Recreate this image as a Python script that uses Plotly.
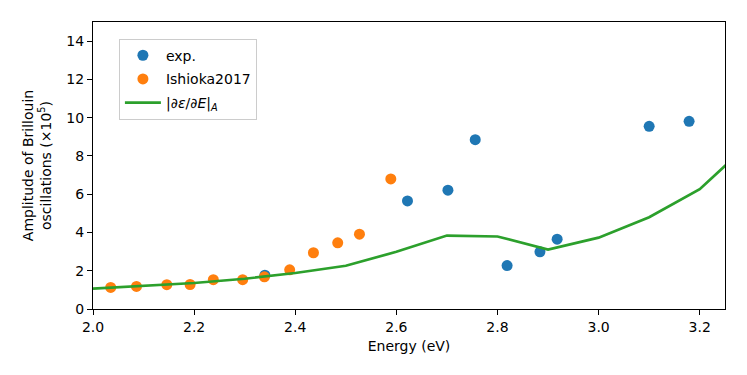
import plotly.graph_objects as go

# Data
exp_energy = [2.340, 2.622, 2.702, 2.756, 2.819, 2.884, 2.918, 3.100, 3.179]
exp_amp = [1.77, 5.65, 6.21, 8.85, 2.27, 2.99, 3.65, 9.55, 9.81]

ish_energy = [2.035, 2.086, 2.146, 2.192, 2.238, 2.296, 2.339, 2.389, 2.436, 2.484, 2.527, 2.589]
ish_amp = [1.13, 1.18, 1.27, 1.28, 1.53, 1.53, 1.68, 2.05, 2.94, 3.46, 3.91, 6.80]

deriv_energy = [2.0, 2.1, 2.2, 2.3, 2.4, 2.5, 2.6, 2.7, 2.8, 2.9, 3.0, 3.1, 3.2, 3.3]
deriv_amp = [1.06, 1.20, 1.36, 1.58, 1.88, 2.26, 2.99, 3.84, 3.79, 3.11, 3.73, 4.80, 6.26, 8.70]

x_ticks = [2.0, 2.2, 2.4, 2.6, 2.8, 3.0, 3.2]
y_ticks = [0, 2, 4, 6, 8, 10, 12, 14]

FONT = "DejaVu Sans"
FS = 14

fig = go.Figure()
fig.add_trace(go.Scatter(
    x=exp_energy, y=exp_amp, mode="markers", name="exp.",
    marker=dict(color="#1f77b4", size=11), legendgroup="a",
))
fig.add_trace(go.Scatter(
    x=ish_energy, y=ish_amp, mode="markers", name="Ishioka2017",
    marker=dict(color="#ff7f0e", size=11), legendgroup="b",
))
fig.add_trace(go.Scatter(
    x=deriv_energy, y=deriv_amp, mode="lines",
    name="|∂<i>ε</i>/∂<i>E</i>|<sub><i>A</i></sub>",
    line=dict(color="#2ca02c", width=2.7), legendgroup="c",
))

axis_common = dict(
    showline=True, linecolor="black", linewidth=1, mirror=True,
    ticks="outside", ticklen=5, tickwidth=1, tickcolor="black",
    showgrid=False, zeroline=False,
    tickfont=dict(family=FONT, size=FS, color="black"),
)

fig.update_layout(
    width=747, height=375,
    margin=dict(l=92.5, r=21.7, t=21.7, b=65.7),
    plot_bgcolor="white", paper_bgcolor="white",
    font=dict(family=FONT, size=FS, color="black"),
    xaxis=dict(
        range=[2.0, 3.25], tickvals=x_ticks,
        ticktext=[f"{v:.1f}" for v in x_ticks],
        title=dict(text="Energy (eV)", font=dict(family=FONT, size=FS), standoff=7),
        **axis_common,
    ),
    yaxis=dict(
        range=[0, 15], tickvals=y_ticks,
        title=dict(text="Amplitude of Brillouin<br>oscillations (×10<sup>5</sup>)",
                   font=dict(family=FONT, size=FS), standoff=11),
        **axis_common,
    ),
    legend=dict(
        x=0.041, y=0.942, xanchor="left", yanchor="top",
        bgcolor="rgba(255,255,255,0.8)", bordercolor="#cccccc", borderwidth=1,
        font=dict(family=FONT, size=FS, color="black"),
        traceorder="grouped", tracegroupgap=2.5, itemwidth=36,
    ),
    showlegend=True,
)

fig.write_html("out.html", post_script="document.body.style.margin='0px';",
               config={"displayModeBar": False})
